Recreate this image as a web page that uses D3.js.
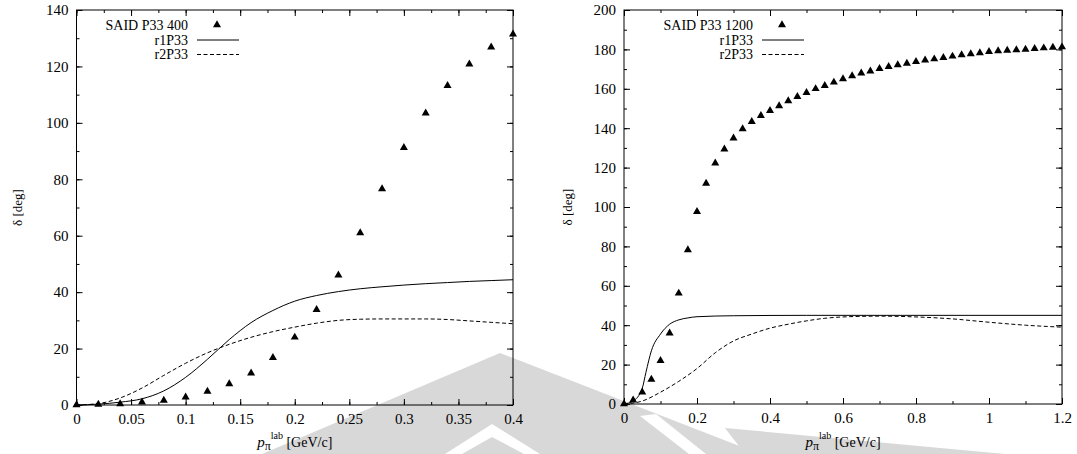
<!DOCTYPE html>
<html>
<head>
<meta charset="utf-8">
<script src="https://cdn.jsdelivr.net/npm/d3@7"></script>
<style>
body { margin: 0; background: #fff; }
text { font-family: "Liberation Serif", "DejaVu Serif", serif; fill: #000; }
</style>
</head>
<body>
<div id="chart"></div>
<script>
// ---- left panel: SAID P33 400 ----
var said400X = [0, 0.02, 0.04, 0.06, 0.08, 0.10, 0.12, 0.14, 0.16, 0.18, 0.20, 0.22, 0.24, 0.26, 0.28, 0.30, 0.32, 0.34, 0.36, 0.38, 0.40];
var said400Y = [0, 0.2, 0.4, 1.0, 1.6, 2.8, 4.8, 7.5, 11.3, 16.8, 24, 33.8, 46, 61, 76.6, 91.2, 103.4, 113.2, 120.8, 126.8, 131.4];
var r1Left = [0, 0.3, 1, 2.2, 5, 9.8, 16.2, 23.2, 29.2, 33.5, 36.8, 38.8, 40.2, 41.2, 41.9, 42.5, 43, 43.4, 43.8, 44.1, 44.4];
var r2Left = [0, 0.5, 2.5, 6, 10.5, 14.8, 18.5, 21.5, 24, 26, 27.6, 29, 30, 30.4, 30.5, 30.5, 30.5, 30.3, 29.8, 29.3, 28.8];
var leftXTicks = [0, 0.05, 0.1, 0.15, 0.2, 0.25, 0.3, 0.35, 0.4];
var leftXLabels = ["0", "0.05", "0.1", "0.15", "0.2", "0.25", "0.3", "0.35", "0.4"];
var leftYTicks = [0, 20, 40, 60, 80, 100, 120, 140];

// ---- right panel: SAID P33 1200 ----
var said1200X = [0, 0.025, 0.05, 0.075, 0.1, 0.125, 0.15, 0.175, 0.2, 0.225, 0.25, 0.275, 0.3, 0.325, 0.35, 0.375, 0.4, 0.425, 0.45, 0.475, 0.5, 0.525, 0.55, 0.575, 0.6, 0.625, 0.65, 0.675, 0.7, 0.725, 0.75, 0.775, 0.8, 0.825, 0.85, 0.875, 0.9, 0.925, 0.95, 0.975, 1.0, 1.025, 1.05, 1.075, 1.1, 1.125, 1.15, 1.175, 1.2];
var said1200Y = [0, 2, 6, 12.5, 22, 36, 56.2, 78.2, 97.6, 112, 122.2, 129.4, 134.9, 139.6, 143.3, 146.4, 148.9, 151.3, 153.8, 156, 158, 160, 161.6, 163.3, 165, 166.5, 167.9, 169, 170.2, 171.2, 172.1, 172.9, 173.8, 174.5, 175.1, 175.8, 176.5, 177.2, 177.7, 178.2, 178.8, 179.2, 179.5, 179.7, 180, 180.4, 180.7, 181, 181.2];
var r1RightX = [0, 0.025, 0.05, 0.06, 0.075, 0.1, 0.125, 0.15, 0.175, 0.2, 0.3, 0.5, 0.8, 1.2];
var r1RightY = [0, 1.5, 8, 16, 27, 35.5, 40.5, 42.7, 43.7, 44.3, 44.8, 45, 45, 45];
var r2RightX = [0, 0.05, 0.1, 0.15, 0.2, 0.25, 0.3, 0.35, 0.4, 0.45, 0.5, 0.55, 0.6, 0.7, 0.8, 0.9, 1.0, 1.1, 1.2];
var r2RightY = [0, 1.5, 6, 11.5, 18, 26, 32, 35.5, 38.5, 40.5, 42.2, 43.5, 44.2, 44.6, 44.2, 43.2, 41.5, 40, 39];
var rightXTicks = [0, 0.2, 0.4, 0.6, 0.8, 1.0, 1.2];
var rightXLabels = ["0", "0.2", "0.4", "0.6", "0.8", "1", "1.2"];
var rightYTicks = [0, 20, 40, 60, 80, 100, 120, 140, 160, 180, 200];

var legendNames = ["r1P33", "r2P33"];

var width = 1077, height = 454;
var svg = d3.select("#chart").append("svg")
    .attr("width", width)
    .attr("height", height);
svg.append("rect").attr("width", width).attr("height", height).attr("fill", "#fff");

// faint logo watermark behind the plots
var wm = svg.append("g").attr("class", "watermark").attr("fill", "#d8d8d8");
wm.append("path").attr("d", "M500,353 L262,454 L760,454 Z");
wm.append("path").attr("d", "M725,428 L1005,454 L745,454 Z");
wm.append("path")
    .attr("d", "M445,454 L492,424 L540,454 L524,454 L492,437 L462,454 Z")
    .attr("fill", "#fff");
wm.append("path")
    .attr("d", "M640,416 L656,414 L706,454 L689,454 Z")
    .attr("fill", "#fff");

function drawPanel(o) {
    var g = svg.append("g");
    var x = d3.scaleLinear().domain(o.xDomain).range([o.left, o.right]);
    var y = d3.scaleLinear().domain(o.yDomain).range([o.bottom, o.top]);

    var minorX = d3.range(o.xDomain[0], o.xDomain[1] + o.xMinor / 2, o.xMinor);
    var minorY = d3.range(o.yDomain[0], o.yDomain[1] + o.yMinor / 2, o.yMinor);

    function styleAxis(sel) {
        sel.select(".domain").remove();
        sel.attr("font-size", 15).attr("font-family", '"Liberation Serif", serif');
        sel.selectAll("line").attr("stroke", "#000");
        sel.selectAll("text").attr("fill", "#111");
    }

    // minor ticks (all four sides)
    g.append("g").attr("transform", "translate(0," + o.bottom + ")")
        .call(d3.axisBottom(x).tickValues(minorX).tickSize(-3).tickFormat(""))
        .call(styleAxis);
    g.append("g").attr("transform", "translate(0," + o.top + ")")
        .call(d3.axisTop(x).tickValues(minorX).tickSize(-3).tickFormat(""))
        .call(styleAxis);
    g.append("g").attr("transform", "translate(" + o.left + ",0)")
        .call(d3.axisLeft(y).tickValues(minorY).tickSize(-3).tickFormat(""))
        .call(styleAxis);
    g.append("g").attr("transform", "translate(" + o.right + ",0)")
        .call(d3.axisRight(y).tickValues(minorY).tickSize(-3).tickFormat(""))
        .call(styleAxis);

    // major ticks with labels
    g.append("g").attr("transform", "translate(0," + o.bottom + ")")
        .call(d3.axisBottom(x).tickValues(o.xTicks).tickSize(-6).tickPadding(8)
            .tickFormat(function (d, i) { return o.xLabels[i]; }))
        .call(styleAxis);
    g.append("g").attr("transform", "translate(0," + o.top + ")")
        .call(d3.axisTop(x).tickValues(o.xTicks).tickSize(-6).tickFormat(""))
        .call(styleAxis);
    g.append("g").attr("transform", "translate(" + o.left + ",0)")
        .call(d3.axisLeft(y).tickValues(o.yTicks).tickSize(-6).tickPadding(8))
        .call(styleAxis);
    g.append("g").attr("transform", "translate(" + o.right + ",0)")
        .call(d3.axisRight(y).tickValues(o.yTicks).tickSize(-6).tickFormat(""))
        .call(styleAxis);

    // frame
    g.append("rect")
        .attr("x", o.left).attr("y", o.top)
        .attr("width", o.right - o.left).attr("height", o.bottom - o.top)
        .attr("fill", "none").attr("stroke", "#000").attr("stroke-width", 1);

    var line = d3.line()
        .x(function (d) { return x(d[0]); })
        .y(function (d) { return y(d[1]); })
        .curve(d3.curveMonotoneX);

    g.append("path")
        .datum(d3.zip(o.r1X, o.r1Y))
        .attr("d", line)
        .attr("fill", "none").attr("stroke", "#000").attr("stroke-width", 1);
    g.append("path")
        .datum(d3.zip(o.r2X, o.r2Y))
        .attr("d", line)
        .attr("fill", "none").attr("stroke", "#000").attr("stroke-width", 1)
        .attr("stroke-dasharray", "4,2.5");

    var tri = d3.symbol().type(d3.symbolTriangle).size(28);
    g.append("g").selectAll("path")
        .data(d3.zip(o.ptsX, o.ptsY))
        .enter().append("path")
        .attr("d", tri)
        .attr("transform", function (d) { return "translate(" + x(d[0]) + "," + y(d[1]) + ")"; })
        .attr("fill", "#000");

    // legend
    var lg = g.append("g").attr("font-size", 14);
    var names = [o.pointsName].concat(legendNames);
    lg.selectAll("text").data(names).enter().append("text")
        .attr("x", o.legendX)
        .attr("y", function (d, i) { return 30 + i * 14.5; })
        .attr("text-anchor", "end")
        .text(function (d) { return d; });
    lg.append("path").attr("d", tri)
        .attr("transform", "translate(" + (o.legendX + 29) + ",25)");
    lg.append("line")
        .attr("x1", o.legendX + 9).attr("x2", o.legendX + 51)
        .attr("y1", 40).attr("y2", 40).attr("stroke", "#000");
    lg.append("line")
        .attr("x1", o.legendX + 9).attr("x2", o.legendX + 51)
        .attr("y1", 54.5).attr("y2", 54.5).attr("stroke", "#000")
        .attr("stroke-dasharray", "4,2.5");

    // axis titles
    var cx = (o.left + o.right) / 2;
    var xt = g.append("text").attr("x", cx).attr("y", 447)
        .attr("text-anchor", "middle").attr("font-size", 14);
    xt.append("tspan").attr("font-style", "italic").attr("font-size", 15).text("p");
    xt.append("tspan").attr("dy", 3).attr("font-size", 12).text("π");
    xt.append("tspan").attr("dy", -11).attr("font-size", 10).text("lab");
    xt.append("tspan").attr("dy", 8).text(" [GeV/c]");

    g.append("text")
        .attr("transform", "translate(" + o.yTitleX + "," + ((o.top + o.bottom) / 2) + ") rotate(-90)")
        .attr("text-anchor", "middle").attr("dy", "0.35em").attr("font-size", 13)
        .text("δ [deg]");
}

drawPanel({
    left: 76.5, right: 513, top: 10, bottom: 405,
    xDomain: [0, 0.4], yDomain: [0, 140],
    xTicks: leftXTicks, xLabels: leftXLabels, yTicks: leftYTicks,
    xMinor: 0.025, yMinor: 10,
    ptsX: said400X, ptsY: said400Y,
    r1X: said400X, r1Y: r1Left,
    r2X: said400X, r2Y: r2Left,
    pointsName: "SAID P33 400", legendX: 188, yTitleX: 17
});

drawPanel({
    left: 624, right: 1062, top: 10, bottom: 404,
    xDomain: [0, 1.2], yDomain: [0, 200],
    xTicks: rightXTicks, xLabels: rightXLabels, yTicks: rightYTicks,
    xMinor: 0.1, yMinor: 10,
    ptsX: said1200X, ptsY: said1200Y,
    r1X: r1RightX, r1Y: r1RightY,
    r2X: r2RightX, r2Y: r2RightY,
    pointsName: "SAID P33 1200", legendX: 753, yTitleX: 567
});
</script>
</body>
</html>
